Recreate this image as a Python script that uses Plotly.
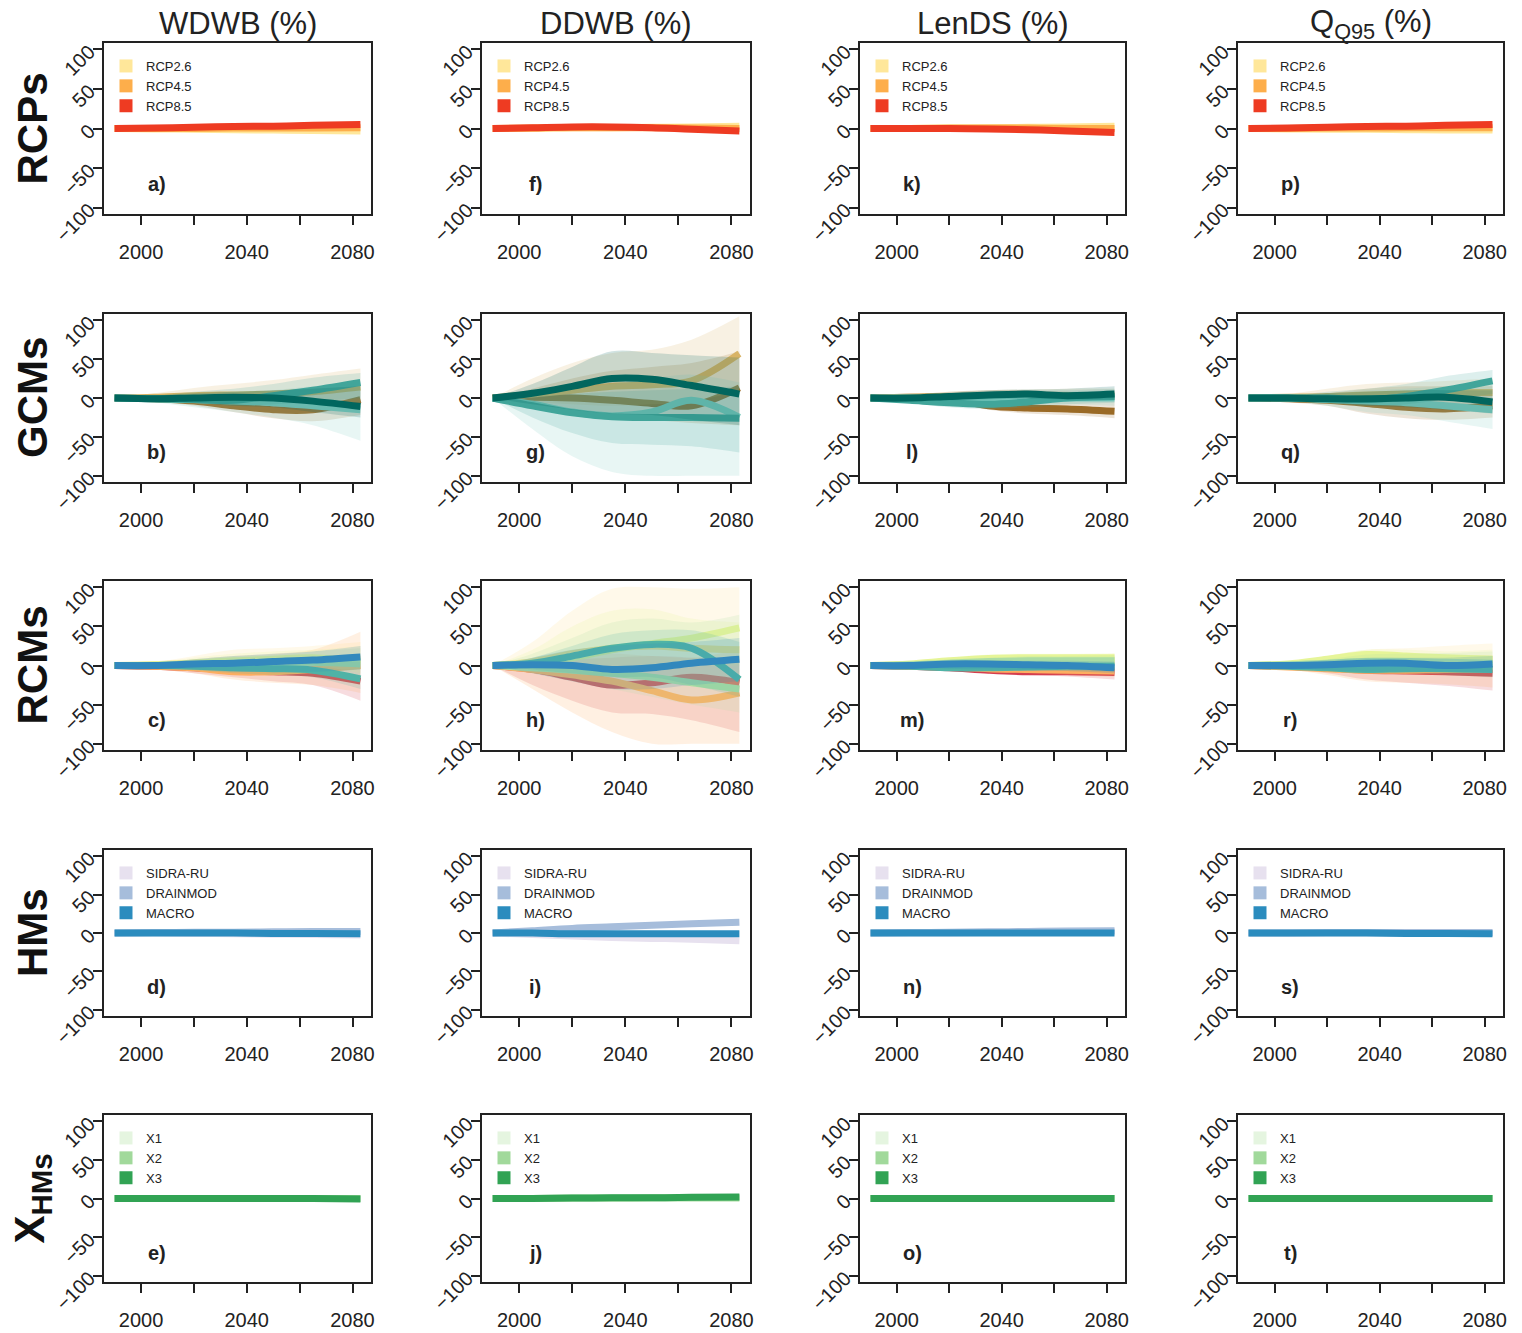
import plotly.graph_objects as go

W, H = 1522, 1333

# ---- data -----------------------------------------------------------------
YEARS = [1990, 2005, 2020, 2035, 2050, 2065, 2083]
COL_KEYS = ["WDWB", "DDWB", "LenDS", "Q95"]
COL_TITLES = ["WDWB (%)", "DDWB (%)", "LenDS (%)", "Q<sub>Q95</sub> (%)"]
ROW_LABELS = ["RCPs", "GCMs", "RCMs", "HMs", "X<sub>HMs</sub>"]
PANEL_LETTERS = "abcdefghijklmnopqrst"

X_TICKS = [2000, 2040, 2080]
X_MINOR = [2020, 2060]
Y_TICKS = [-100, -50, 0, 50, 100]

RCP_NAMES = ["RCP2.6", "RCP4.5", "RCP8.5"]
RCP_COLORS = ["#ffe79a", "#fdae4b", "#ee3b22"]
RCP_MEAN = {
    "WDWB": [[0, -0.5, -1, -1.5, -2, -2.5, -3], [0, 0, 0, 0.5, 0.5, 0.5, 1], [0, 0.5, 1.5, 2.5, 3, 4, 5]],
    "DDWB": [[0, 0, 1, 1, 1.5, 2, 3], [0, 0.5, 1, 1, 1, 0.5, 0], [0, 1, 2, 2, 1, -1, -3]],
    "LenDS": [[0, 0, 0.5, 1, 1.5, 2, 3], [0, 0, 0.5, 0.5, 0.5, 0, 0], [0, 0, 0, -0.5, -1.5, -3, -5]],
    "Q95": [[0, -0.5, -1, -1, -1.5, -2, -2], [0, 0, 0.5, 0.5, 1, 1, 1], [0, 0.5, 1.5, 2.5, 3, 4, 5]],
}

GCM_NAMES = ["GCM1", "GCM2", "GCM3", "GCM4", "GCM5"]
GCM_COLORS = ["#9a6a26", "#d8b365", "#80cdc1", "#41a59a", "#01665e"]
GCM_MEAN = {
    "WDWB": [[0, -1, -4, -10, -15, -15, -2], [0, 1, 3, 4, 5, 8, 14], [0, -1, -2, -4, -6, -10, -15],
             [0, -1, -2, -3, 3, 10, 20], [0, -1, 0, 1, 0, -4, -11]],
    "DDWB": [[0, 1, 0, -3, -7, -10, 13], [0, 5, 10, 15, 17, 22, 57], [0, -8, -18, -23, -18, -3, -25],
             [0, -10, -19, -24, -25, -25, -26], [0, 6, 15, 25, 24, 16, 5]],
    "LenDS": [[0, 1, 0, -10, -13, -14, -17], [0, 1, 2, 3, 3, 3, 3], [0, 0, -1, -1, 0, 0, 0],
              [0, -3, -6, -8, -5, 0, 2], [0, 0, 2, 4, 5, 3, 5]],
    "Q95": [[0, -1, -3, -7, -12, -14, -10], [0, 1, 2, 4, 5, 7, 7], [0, 0, -2, -4, -6, -10, -15],
            [0, 0, 0, -2, 2, 10, 22], [0, 0, -1, -1, 0, 1, -5]],
}
GCM_LO = {
    "WDWB": [[0, -4, -10, -18, -26, -30, -22], [0, -2, -3, -5, -5, -5, -5], [0, -5, -12, -18, -25, -35, -55],
             [0, -3, -6, -10, -8, -5, 0], [0, -3, -6, -10, -12, -18, -25]],
    "DDWB": [[0, -8, -15, -22, -28, -32, -35], [0, -5, -8, -10, -8, -5, 10], [0, -40, -75, -95, -100, -100, -100],
             [0, -25, -45, -58, -60, -62, -70], [0, -8, -15, -20, -22, -28, -35]],
    "LenDS": [[0, -2, -5, -15, -20, -22, -26], [0, -2, -3, -3, -3, -3, -3], [0, -3, -6, -8, -8, -8, -10],
              [0, -6, -12, -14, -12, -8, -6], [0, -2, -3, -2, -1, -2, -2]],
    "Q95": [[0, -5, -10, -20, -26, -28, -25], [0, -2, -5, -8, -8, -8, -10], [0, -4, -10, -18, -22, -30, -40],
            [0, -3, -6, -10, -8, -2, 5], [0, -3, -6, -10, -12, -15, -20]],
}
GCM_HI = {
    "WDWB": [[0, 2, 4, 5, 5, 6, 10], [0, 6, 13, 18, 23, 30, 38], [0, 3, 5, 8, 10, 15, 20],
             [0, 3, 8, 12, 18, 26, 32], [0, 3, 6, 8, 10, 12, 15]],
    "DDWB": [[0, 12, 25, 35, 40, 45, 60], [0, 25, 45, 58, 62, 75, 105], [0, 5, 12, 18, 25, 30, 20],
             [0, 2, 5, 8, 10, 12, 15], [0, 18, 40, 60, 58, 55, 52]],
    "LenDS": [[0, 4, 8, 10, 10, 8, 5], [0, 4, 8, 10, 11, 12, 12], [0, 3, 6, 8, 9, 10, 12],
              [0, 2, 3, 4, 6, 8, 10], [0, 3, 7, 10, 11, 12, 15]],
    "Q95": [[0, 3, 6, 12, 15, 15, 15], [0, 5, 12, 18, 20, 22, 25], [0, 3, 6, 10, 12, 15, 18],
            [0, 3, 8, 12, 18, 28, 36], [0, 3, 6, 8, 10, 10, 10]],
}

RCM_NAMES = ["RCM1", "RCM2", "RCM3", "RCM4", "RCM5", "RCM6", "RCM7"]
RCM_COLORS = ["#d53e4f", "#fdae61", "#fee08b", "#e6f598", "#abdda4", "#4fb3a6", "#3288bd"]
RCM_MEAN = {
    "WDWB": [[0, -1, -3, -6, -8, -10, -20], [0, -1, -3, -8, -8, -5, 0], [0, 1, 3, 5, 6, 8, 8],
             [0, 1, 3, 6, 8, 10, 5], [0, 0, 1, 2, 3, 4, 2], [0, 0, -1, -3, -4, -6, -17],
             [0, 0, 2, 3, 5, 7, 11]],
    "DDWB": [[0, -5, -15, -25, -22, -15, -22], [0, -5, -12, -20, -32, -44, -35], [0, 5, 15, 22, 25, 22, 20],
             [0, 3, 10, 20, 28, 35, 48], [0, -3, -6, -10, -15, -22, -30], [0, 3, 12, 22, 27, 22, -18],
             [0, 1, 0, -5, -3, 3, 8]],
    "LenDS": [[0, -1, -3, -6, -8, -8, -9], [0, -1, -2, -4, -5, -6, -7], [0, 1, 3, 5, 6, 6, 7],
              [0, 2, 6, 9, 10, 10, 10], [0, 1, 3, 5, 6, 6, 6], [0, -1, -3, -3, -2, -1, -1],
              [0, 0, 2, 2, 1, 0, -3]],
    "Q95": [[0, -1, -3, -6, -7, -8, -10], [0, -2, -4, -6, -6, -5, -5], [0, 1, 4, 8, 8, 8, 8],
            [0, 2, 8, 14, 12, 10, 8], [0, 1, 3, 5, 5, 4, 3], [0, -1, -3, -5, -4, -4, -5],
            [0, 0, 1, 3, 3, 0, 2]],
}
RCM_LO = {
    "WDWB": [[0, -4, -10, -15, -20, -25, -45], [0, -4, -10, -18, -22, -25, -35], [0, -2, -4, -5, -5, -5, -5],
             [0, -1, 0, 0, 0, 0, -10], [0, -3, -6, -8, -8, -10, -15], [0, -3, -6, -10, -12, -15, -30],
             [0, -3, -5, -8, -8, -8, -5]],
    "DDWB": [[0, -25, -45, -60, -62, -70, -85], [0, -30, -60, -85, -100, -100, -100], [0, -5, -10, -15, -20, -25, -30],
             [0, -5, -10, -10, -5, 0, 0], [0, -10, -20, -30, -40, -50, -60], [0, -5, -10, -15, -15, -25, -40],
             [0, -10, -20, -30, -30, -25, -20]],
    "LenDS": [[0, -3, -6, -10, -12, -14, -18], [0, -3, -6, -8, -10, -12, -15], [0, -1, 0, 0, 0, 0, 0],
              [0, 0, 2, 4, 5, 5, 5], [0, -1, 0, 0, 0, 0, 0], [0, -3, -6, -7, -7, -7, -8],
              [0, -2, -4, -5, -6, -7, -10]],
    "Q95": [[0, -4, -10, -18, -22, -26, -32], [0, -5, -12, -20, -22, -24, -28], [0, -1, 0, 0, 0, 0, -5],
            [0, 0, 3, 6, 4, 2, 0], [0, -2, -3, -5, -6, -8, -10], [0, -3, -7, -10, -10, -12, -15],
            [0, -3, -6, -8, -8, -8, -10]],
}
RCM_HI = {
    "WDWB": [[0, 2, 3, 4, 5, 5, 5], [0, 3, 8, 12, 15, 20, 43], [0, 4, 12, 20, 22, 25, 30],
             [0, 4, 10, 15, 18, 20, 25], [0, 3, 8, 12, 14, 18, 22], [0, 2, 4, 5, 6, 6, 5],
             [0, 3, 8, 12, 15, 18, 25]],
    "DDWB": [[0, 5, 8, 10, 12, 10, 5], [0, 5, 10, 15, 12, 10, 20], [0, 30, 70, 98, 100, 98, 100],
             [0, 20, 50, 70, 72, 60, 55], [0, 15, 35, 55, 60, 55, 65], [0, 10, 25, 40, 45, 45, 30],
             [0, 10, 20, 25, 28, 30, 35]],
    "LenDS": [[0, 1, 1, 0, -2, -3, -3], [0, 1, 2, 2, 2, 2, 2], [0, 3, 8, 12, 13, 14, 15],
              [0, 4, 10, 14, 15, 15, 16], [0, 3, 8, 10, 12, 12, 13], [0, 2, 3, 3, 3, 3, 4],
              [0, 2, 5, 6, 6, 6, 5]],
    "Q95": [[0, 1, 2, 2, 2, 2, 2], [0, 1, 2, 3, 4, 5, 5], [0, 4, 12, 20, 22, 25, 28],
            [0, 4, 12, 20, 20, 18, 20], [0, 3, 8, 14, 15, 16, 18], [0, 2, 3, 2, 3, 4, 5],
            [0, 3, 7, 10, 10, 10, 12]],
}

HM_NAMES = ["SIDRA-RU", "DRAINMOD", "MACRO"]
HM_COLORS = ["#e7e1ef", "#a6bddb", "#2b8cbe"]
HM_MEAN = {
    "WDWB": [[0, 0, -0.5, -1, -1.5, -2, -2.5], [0, 0.5, 1, 1, 1.5, 2, 2], [0, 0, 0, 0, -0.5, -0.5, -1]],
    "DDWB": [[0, -2, -4, -6, -7, -8, -10], [0, 3, 6, 8, 10, 12, 14], [0, 0, -1, -1, -1, -1, -1]],
    "LenDS": [[0, 0, 0, 0.5, 1, 1.5, 2], [0, 0.5, 1, 1.5, 2, 2.5, 3], [0, 0, 0, 0, 0, 0, 0]],
    "Q95": [[0, 0, 0, 0, 0, 0, 0], [0, 0, 0.5, 0.5, 0.5, 0.5, 0.5], [0, 0, 0, 0, -0.5, -0.5, -1]],
}

XHM_NAMES = ["X1", "X2", "X3"]
XHM_COLORS = ["#e5f5e0", "#a1d99b", "#31a354"]
XHM_MEAN = {
    "WDWB": [[0, 0, 0, 0, 0, 0, 0], [0, 0, 0, 0, 0, 0, 0], [0, 0, 0, 0, 0, 0, -0.5]],
    "DDWB": [[0, 0, 0, 0, 0, 0, 0], [0, 0, 0.5, 0.5, 1, 1, 1], [0, 0, 0.5, 1, 1, 1.5, 2]],
    "LenDS": [[0, 0, 0, 0, 0, 0, 0], [0, 0, 0, 0, 0, 0, 0], [0, 0, 0, 0, 0, 0, 0]],
    "Q95": [[0, 0, 0, 0, 0, 0, 0], [0, 0, 0, 0, 0, 0, 0], [0, 0, 0, 0, 0, 0, 0]],
}

ROWS = [
    dict(names=RCP_NAMES, colors=RCP_COLORS, mean=RCP_MEAN, lo=None, hi=None, legend=True),
    dict(names=GCM_NAMES, colors=GCM_COLORS, mean=GCM_MEAN, lo=GCM_LO, hi=GCM_HI, legend=False),
    dict(names=RCM_NAMES, colors=RCM_COLORS, mean=RCM_MEAN, lo=RCM_LO, hi=RCM_HI, legend=False),
    dict(names=HM_NAMES, colors=HM_COLORS, mean=HM_MEAN, lo=None, hi=None, legend=True),
    dict(names=XHM_NAMES, colors=XHM_COLORS, mean=XHM_MEAN, lo=None, hi=None, legend=True),
]

# ---- layout geometry (pixels of the 1522x1333 page) -------------------------
COL_PX = [(104, 371), (482, 750), (860, 1125), (1238, 1503)]
ROW_PX = [(43, 214), (314, 482), (581, 750), (850, 1016), (1115, 1282)]
FONT = "Liberation Sans, Arial, sans-serif"
INK = "#222222"


def px_x(p):
    return p / W


def px_y(p):
    return 1 - p / H


def rgba(hex_color, a):
    h = hex_color.lstrip("#")
    r, g, b = int(h[0:2], 16), int(h[2:4], 16), int(h[4:6], 16)
    return f"rgba({r},{g},{b},{a})"


fig = go.Figure()
layout = {}
annotations = []
legend_n = 0

for c, key in enumerate(COL_KEYS):
    for r, row in enumerate(ROWS):
        k = c * 5 + r
        sfx = "" if k == 0 else str(k + 1)
        xa, ya = "x" + sfx, "y" + sfx

        # each model: shaded band first, then its mean line (later bands veil earlier lines)
        for i, col in enumerate(row["colors"]):
            if row["lo"] is not None:
                fig.add_trace(go.Scatter(
                    x=YEARS, y=row["lo"][key][i], xaxis=xa, yaxis=ya, mode="lines",
                    line=dict(width=0, shape="spline", color=col), showlegend=False,
                    hoverinfo="skip"))
                fig.add_trace(go.Scatter(
                    x=YEARS, y=row["hi"][key][i], xaxis=xa, yaxis=ya, mode="lines",
                    line=dict(width=0, shape="spline", color=col), fill="tonexty",
                    fillcolor=rgba(col, 0.18), showlegend=False, hoverinfo="skip"))
            fig.add_trace(go.Scatter(
                x=YEARS, y=row["mean"][key][i], xaxis=xa, yaxis=ya, mode="lines",
                line=dict(width=7, shape="spline", color=col), name=row["names"][i],
                showlegend=False))

        # legend boxes
        if row["legend"]:
            legend_n += 1
            lg = "legend" if legend_n == 1 else f"legend{legend_n}"
            for i, col in enumerate(row["colors"]):
                fig.add_trace(go.Scatter(
                    x=[None], y=[None], xaxis=xa, yaxis=ya, mode="markers",
                    marker=dict(symbol="square", size=13, color=col),
                    name=row["names"][i], showlegend=True, legend=lg))
            layout[lg] = dict(
                x=px_x(COL_PX[c][0] + 2), y=px_y(ROW_PX[r][0] + 8), xanchor="left", yanchor="top",
                bgcolor="rgba(0,0,0,0)", font=dict(family=FONT, size=13, color=INK),
                itemwidth=30, tracegroupgap=0, traceorder="normal")

        layout["xaxis" + sfx] = dict(
            domain=[px_x(COL_PX[c][0]), px_x(COL_PX[c][1])], anchor=ya, automargin=False,
            range=[1986, 2087], tickvals=X_TICKS,
            ticks="outside", ticklen=9, tickwidth=1.5, tickcolor=INK, ticklabelstandoff=10,
            minor=dict(tickvals=X_MINOR, ticks="outside", ticklen=9, tickwidth=1.5, tickcolor=INK,
                       showgrid=False),
            showline=True, linecolor=INK, linewidth=1.5, mirror=True,
            showgrid=False, zeroline=False, tickfont=dict(family=FONT, size=20, color=INK))
        layout["yaxis" + sfx] = dict(
            domain=[px_y(ROW_PX[r][1]), px_y(ROW_PX[r][0])], anchor=xa, automargin=False,
            range=[-108, 108], tickvals=Y_TICKS, tickangle=-45,
            ticks="outside", ticklen=9, tickwidth=1.5, tickcolor=INK,
            showline=True, linecolor=INK, linewidth=1.5, mirror=True,
            showgrid=False, zeroline=False, tickfont=dict(family=FONT, size=20, color=INK))

        annotations.append(dict(
            x=2006, y=-70, xref=xa, yref=ya, text=f"<b>{PANEL_LETTERS[k]})</b>",
            showarrow=False, font=dict(family=FONT, size=20, color=INK)))

for c, title in enumerate(COL_TITLES):
    annotations.append(dict(
        x=px_x((COL_PX[c][0] + COL_PX[c][1]) / 2), y=px_y(24), xref="paper", yref="paper",
        xanchor="center", yanchor="middle",
        text=title, showarrow=False, font=dict(family=FONT, size=31, color=INK)))

for r, label in enumerate(ROW_LABELS):
    annotations.append(dict(
        x=px_x(32), y=px_y((ROW_PX[r][0] + ROW_PX[r][1]) / 2), xref="paper", yref="paper",
        xanchor="center", yanchor="middle",
        text=f"<b>{label}</b>", textangle=-90, showarrow=False,
        font=dict(family=FONT, size=42, color="#111111")))

fig.update_layout(
    width=W, height=H, margin=dict(l=0, r=0, t=0, b=0, autoexpand=False),
    paper_bgcolor="white", plot_bgcolor="white",
    annotations=annotations, **layout)

# drop the browser's default 8px page margin so the figure fills the window exactly
fig.write_html("out.html", config={"displayModeBar": False},
               post_script="document.body.style.margin = '0';")
